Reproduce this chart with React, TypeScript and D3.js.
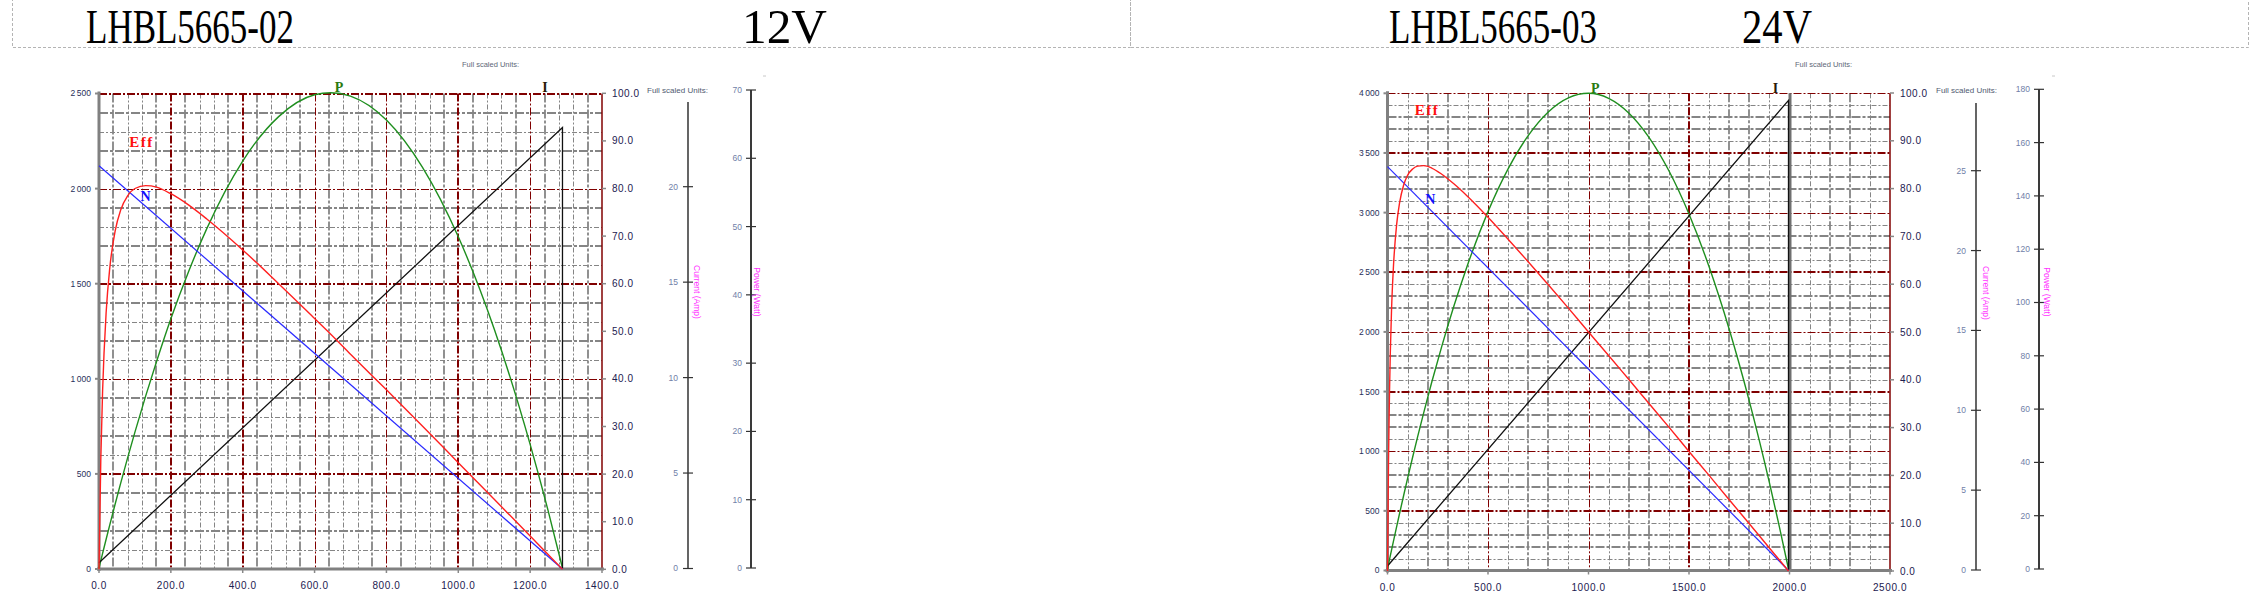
import React from 'react';
import * as d3 from 'd3';

// ---------- Left motor: LHBL5665-02, 12V ----------
const leftTitle = 'LHBL5665-02';
const leftVoltage = '12V';
const leftTorque = [0, 5, 10, 20, 30, 45, 60, 80, 100, 130, 160, 200, 250, 300, 400, 500, 600, 645, 700, 800, 900, 1000, 1100, 1200, 1250, 1290];
const leftEff = [0, 23.0, 37.4, 54.1, 63.3, 71.1, 75.4, 78.5, 80.0, 80.6, 80.3, 78.9, 76.5, 73.6, 67.1, 60.0, 52.7, 49.4, 45.2, 37.7, 30.1, 22.4, 14.7, 7.0, 3.1, 0];
const leftPower = [0, 1.08, 2.14, 4.25, 6.32, 9.37, 12.35, 16.2, 19.9, 25.2, 30.2, 36.5, 43.5, 49.7, 59.6, 66.1, 69.3, 69.6, 69.1, 65.6, 58.7, 48.5, 35.0, 18.1, 8.4, 0];
const leftSpeedTorque = [0, 1290];
const leftSpeed = [2120, 0];
const leftCurrentTorque = [0, 1290, 1290];
const leftCurrent = [0.3, 23.1, 0];
const leftXTicks = [0, 200, 400, 600, 800, 1000, 1200, 1400];
const leftYTicks = [0, 500, 1000, 1500, 2000, 2500];
const leftCurrentTicks = [0, 5, 10, 15, 20];
const leftPowerTicks = [0, 10, 20, 30, 40, 50, 60, 70];

// ---------- Right motor: LHBL5665-03, 24V ----------
const rightTitle = 'LHBL5665-03';
const rightVoltage = '24V';
const rightTorque = [0, 5, 10, 20, 30, 45, 60, 80, 100, 125, 150, 180, 220, 270, 330, 400, 500, 600, 700, 800, 900, 1000, 1100, 1200, 1300, 1400, 1500, 1600, 1700, 1800, 1900, 1950, 1995];
const rightEff = [0, 23.0, 37.5, 54.5, 64.0, 72.3, 77.0, 80.7, 82.8, 84.1, 84.7, 84.8, 84.3, 83.0, 81.0, 78.3, 74.0, 69.4, 64.7, 59.9, 55.0, 50.0, 45.1, 40.1, 35.1, 30.1, 25.0, 20.0, 14.9, 9.9, 4.8, 2.3, 0];
const rightPower = [0, 1.79, 3.56, 7.09, 10.58, 15.74, 20.83, 27.48, 34.0, 41.93, 49.65, 58.61, 70.06, 83.55, 98.57, 114.46, 134.1, 150.15, 162.62, 171.5, 176.8, 178.5, 176.62, 171.15, 162.09, 149.44, 133.2, 113.38, 89.97, 62.97, 32.38, 15.74, 0];
const rightSpeedTorque = [0, 1995];
const rightSpeed = [3385, 0];
const rightCurrentTorque = [0, 1995, 1995];
const rightCurrent = [0.25, 29.4, 0];
const rightXTicks = [0, 500, 1000, 1500, 2000, 2500];
const rightYTicks = [0, 500, 1000, 1500, 2000, 2500, 3000, 3500, 4000];
const rightCurrentTicks = [0, 5, 10, 15, 20, 25];
const rightPowerTicks = [0, 20, 40, 60, 80, 100, 120, 140, 160, 180];

const effTicks = [0, 10, 20, 30, 40, 50, 60, 70, 80, 90, 100];
const curveNames = ['Eff', 'N', 'P', 'I'];
const currentAxisTitle = 'Current (Amp)';
const powerAxisTitle = 'Power (Watt)';
const unitsText = 'Full scaled Units:';

const leftData = {
  title: leftTitle, voltage: leftVoltage,
  torque: leftTorque, eff: leftEff, power: leftPower,
  speedTorque: leftSpeedTorque, speed: leftSpeed,
  currentTorque: leftCurrentTorque, current: leftCurrent,
  xTicks: leftXTicks, yTicks: leftYTicks, curTicks: leftCurrentTicks, powTicks: leftPowerTicks,
  xMax: 1400, yMax: 2500, xMinor: 40, xMajor: 200, yMinor: 100, yMajor: 500,
};
const rightData = {
  title: rightTitle, voltage: rightVoltage,
  torque: rightTorque, eff: rightEff, power: rightPower,
  speedTorque: rightSpeedTorque, speed: rightSpeed,
  currentTorque: rightCurrentTorque, current: rightCurrent,
  xTicks: rightXTicks, yTicks: rightYTicks, curTicks: rightCurrentTicks, powTicks: rightPowerTicks,
  xMax: 2500, yMax: 4000, xMinor: 100, xMajor: 500, yMinor: 100, yMajor: 500,
};

// ---------- layout (pixels) ----------
const leftLayout = {
  x0: 99, x1: 602, yBot: 569, yTop: 93.5,
  effRange: [569.3, 93.3],
  curAxisX: 688, curDomain: [0, 20], curRange: [568.5, 186.7], curTop: 102,
  powAxisX: 751, powDomain: [0, 70], powRange: [568, 90], powTop: 90,
  box: [12, 1130],
  titleX: 86, titleW: 208, voltX: 742, voltW: 85,
  units1: [462, 67], units2: [647, 93],
  curLabel: [697, 292], powLabel: [757, 292],
  mark: [763, 76],
  labelPos: [[118, 2221], [129.5, 1933], [668, 2507], [1241, 2507]],
  thickX: (i: number) => i % 4 === 0 || i % 4 === 3,
  thickY: (i: number) => i % 2 === 1,
  thickMajorX: [200, 400, 1000],
  solidX: null as number | null,
};
const rightLayout = {
  x0: 1387.5, x1: 1890, yBot: 570.5, yTop: 93.3,
  effRange: [571, 93],
  curAxisX: 1976, curDomain: [0, 25], curRange: [570, 170.7], curTop: 103,
  powAxisX: 2039, powDomain: [0, 180], powRange: [569, 89.3], powTop: 89.3,
  box: [1130, 2248],
  titleX: 1389, titleW: 208, voltX: 1742, voltW: 70,
  units1: [1795, 67], units2: [1936, 93],
  curLabel: [1986, 293], powLabel: [2047, 292],
  mark: [2052, 76],
  labelPos: [[196.5, 3818], [213, 3072], [1034, 4002], [1930, 4002]],
  thickX: (i: number) => i % 4 === 1 || i % 4 === 2,
  thickY: (i: number) => i % 4 === 1 || i % 4 === 2,
  thickMajorX: [1500],
  solidX: 2000 as number | null,
};

const SANS = 'Arial, "Liberation Sans", sans-serif';
const SERIF = '"Times New Roman", "Liberation Serif", serif';
const GRID = '#858585';
const MAJOR = '#800000';
const curveColors = ['#ff2020', '#2a2aff', '#1f8f1f', '#111111'];
const labelColors = ['#ff1010', '#1010ff', '#2a7a10', '#2a1a08'];

const fmtY = (v: number) => d3.format(',')(v).replace(/,/g, '\u2009');

function Panel({ L, d }: { L: any; d: any }) {
  const x = d3.scaleLinear().domain([0, d.xMax]).range([L.x0, L.x1]);
  const y = d3.scaleLinear().domain([0, d.yMax]).range([L.yBot, L.yTop]);
  const e = d3.scaleLinear().domain([0, 100]).range(L.effRange);
  const c = d3.scaleLinear().domain(L.curDomain).range(L.curRange);
  const p = d3.scaleLinear().domain(L.powDomain).range(L.powRange);

  const minorX = d3.range(d.xMinor, d.xMax, d.xMinor).filter((v: number) => v % d.xMajor !== 0);
  const minorY = d3.range(d.yMinor, d.yMax, d.yMinor).filter((v: number) => v % d.yMajor !== 0);
  const majorX = d.xTicks.filter((v: number) => v > 0 && v < d.xMax);
  const majorY = d.yTicks.filter((v: number) => v > 0);

  const effLine = d3.line<number>().x((_, i) => x(d.torque[i])).y((v) => e(v)).curve(d3.curveMonotoneX);
  const powLine = d3.line<number>().x((_, i) => x(d.torque[i])).y((v) => p(v)).curve(d3.curveMonotoneX);
  const spdLine = d3.line<number>().x((_, i) => x(d.speedTorque[i])).y((v) => y(v));
  const curLine = d3.line<number>().x((_, i) => x(d.currentTorque[i])).y((v) => c(v));

  const crisp = (v: number, w: number) => (w % 2 === 1 ? Math.round(v) + 0.5 : Math.round(v));

  return (
    <g>
      {/* header */}
      <rect x={L.box[0] + 0.5} y={-5} width={L.box[1] - L.box[0]} height={52.5} fill="none" stroke="#b4b4b4" strokeWidth={1} strokeDasharray="3,2" />
      <text x={L.titleX} y={43} fontFamily={SERIF} fontSize={48} textLength={L.titleW} lengthAdjust="spacingAndGlyphs" fill="#000">{d.title}</text>
      <text x={L.voltX} y={43} fontFamily={SERIF} fontSize={48} textLength={L.voltW} lengthAdjust="spacingAndGlyphs" fill="#000">{d.voltage}</text>
      <text x={L.units1[0]} y={L.units1[1]} fontFamily={SANS} fontSize={7.5} fill="#606878">{unitsText}</text>
      <line x1={L.mark[0]} x2={L.mark[0] + 3} y1={L.mark[1]} y2={L.mark[1]} stroke="#c8c8c8" strokeWidth={1} />

      {/* minor grid */}
      {minorX.map((v: number, i: number) => {
        const t = L.thickX(i);
        const w = t ? 2 : 1;
        const px = crisp(x(v), w);
        return <line key={'mx' + v} x1={px} x2={px} y1={L.yTop} y2={L.yBot} stroke={GRID} strokeWidth={t ? 1.8 : 1} strokeDasharray={t ? '9,2,3,2' : '5,2,2,2'} />;
      })}
      {minorY.map((v: number, i: number) => {
        const t = L.thickY(i);
        const w = t ? 2 : 1;
        const py = crisp(y(v), w);
        return <line key={'my' + v} x1={L.x0} x2={L.x1} y1={py} y2={py} stroke={GRID} strokeWidth={t ? 1.8 : 1} strokeDasharray={t ? '9,2,3,2' : '5,2,2,2'} />;
      })}
      {/* major grid */}
      {majorX.map((v: number) => {
        const t = L.thickMajorX.includes(v);
        const w = t ? 2 : 1;
        const px = crisp(x(v), w);
        return <line key={'Mx' + v} x1={px} x2={px} y1={L.yTop} y2={L.yBot} stroke={MAJOR} strokeWidth={w} strokeDasharray="8,2,2,2" />;
      })}
      {majorY.map((v: number, i: number) => {
        const w = i % 2 === 0 ? 2 : 1;
        const py = crisp(y(v), w);
        return <line key={'My' + v} x1={L.x0} x2={L.x1} y1={py} y2={py} stroke={MAJOR} strokeWidth={w} strokeDasharray="8,2,2,2" />;
      })}
      {L.solidX !== null && (
        <line x1={Math.round(x(L.solidX))} x2={Math.round(x(L.solidX))} y1={L.yTop} y2={L.yBot} stroke="#707070" strokeWidth={3} />
      )}
      {/* right border */}
      <line x1={L.x1} x2={L.x1} y1={L.yTop} y2={L.yBot} stroke={MAJOR} strokeWidth={1.5} />
      {/* left & bottom axes */}
      <line x1={L.x0} x2={L.x0} y1={L.yTop - 2} y2={L.yBot + 2} stroke="#808080" strokeWidth={3} />
      <line x1={L.x0 - 2} x2={L.x1 + 2} y1={L.yBot} y2={L.yBot} stroke="#808080" strokeWidth={3} />

      {/* y ticks & labels */}
      {d.yTicks.map((v: number) => (
        <g key={'yt' + v}>
          <line x1={L.x0 - 4} x2={L.x0} y1={y(v)} y2={y(v)} stroke="#888" strokeWidth={2} />
          <text x={L.x0 - 8} y={y(v)} dy="0.35em" textAnchor="end" fontFamily={SANS} fontSize={8.5} fill="#28305a">{fmtY(v)}</text>
        </g>
      ))}
      {/* x ticks & labels */}
      {d.xTicks.map((v: number) => (
        <g key={'xt' + v}>
          <line x1={x(v)} x2={x(v)} y1={L.yBot} y2={L.yBot + 4} stroke="#888" strokeWidth={1.5} />
          <text x={x(v)} y={L.yBot + 20} textAnchor="middle" fontFamily={SANS} fontSize={10} letterSpacing={0.6} fill="#1c2050">{v.toFixed(1)}</text>
        </g>
      ))}
      {/* efficiency axis (right of plot) */}
      {effTicks.map((v: number) => (
        <g key={'et' + v}>
          <line x1={L.x1} x2={L.x1 + 4} y1={e(v)} y2={e(v)} stroke="#888" strokeWidth={1.5} />
          <text x={L.x1 + 10} y={e(v)} dy="0.35em" fontFamily={SANS} fontSize={10} letterSpacing={0.5} fill="#1c2050">{v.toFixed(1)}</text>
        </g>
      ))}

      {/* current axis */}
      <text x={L.units2[0]} y={L.units2[1]} fontFamily={SANS} fontSize={8} fill="#505a70">{unitsText}</text>
      <line x1={L.curAxisX} x2={L.curAxisX} y1={L.curTop} y2={c(0)} stroke="#555" strokeWidth={1.8} />
      {d.curTicks.map((v: number) => (
        <g key={'ct' + v}>
          <line x1={L.curAxisX - 5} x2={L.curAxisX + 5} y1={c(v)} y2={c(v)} stroke="#333" strokeWidth={1.2} />
          <text x={L.curAxisX - 10} y={c(v)} dy="0.35em" textAnchor="end" fontFamily={SANS} fontSize={8.5} fill="#7080a8">{v}</text>
        </g>
      ))}
      <text transform={`translate(${L.curLabel[0]},${L.curLabel[1]}) rotate(90)`} textAnchor="middle" dy="0.35em" fontFamily={SANS} fontSize={8.5} fill="#ff33ff">{currentAxisTitle}</text>

      {/* power axis */}
      <line x1={L.powAxisX} x2={L.powAxisX} y1={L.powTop} y2={p(0)} stroke="#3a3a3a" strokeWidth={2} />
      {d.powTicks.map((v: number) => (
        <g key={'pt' + v}>
          <line x1={L.powAxisX - 5} x2={L.powAxisX + 5} y1={p(v)} y2={p(v)} stroke="#333" strokeWidth={1.2} />
          <text x={L.powAxisX - 9} y={p(v)} dy="0.35em" textAnchor="end" fontFamily={SANS} fontSize={8.5} fill="#7080a8">{v}</text>
        </g>
      ))}
      <text transform={`translate(${L.powLabel[0]},${L.powLabel[1]}) rotate(90)`} textAnchor="middle" dy="0.35em" fontFamily={SANS} fontSize={8.5} fill="#ff33ff">{powerAxisTitle}</text>

      {/* curves */}
      <path d={powLine(d.power) || ''} fill="none" stroke={curveColors[2]} strokeWidth={1.4} />
      <path d={curLine(d.current) || ''} fill="none" stroke={curveColors[3]} strokeWidth={1.3} />
      <path d={spdLine(d.speed) || ''} fill="none" stroke={curveColors[1]} strokeWidth={1.2} />
      <path d={effLine(d.eff) || ''} fill="none" stroke={curveColors[0]} strokeWidth={1.4} />

      {/* curve labels */}
      {curveNames.map((n, i) => (
        <text key={n} x={x(L.labelPos[i][0])} y={y(L.labelPos[i][1])} textAnchor="middle" fontFamily={SERIF} fontWeight="bold" fontSize={i === 0 ? 15 : 14} letterSpacing={i === 0 ? 1.5 : 0} fill={labelColors[i]}>{n}</text>
      ))}
    </g>
  );
}

export default function App() {
  return (
    <svg width={2252} height={593} style={{ position: 'absolute', left: 0, top: 0, background: '#fff' }}>
      <rect x={0} y={0} width={2252} height={593} fill="#fff" />
      <Panel L={leftLayout} d={leftData} />
      <Panel L={rightLayout} d={rightData} />
    </svg>
  );
}
